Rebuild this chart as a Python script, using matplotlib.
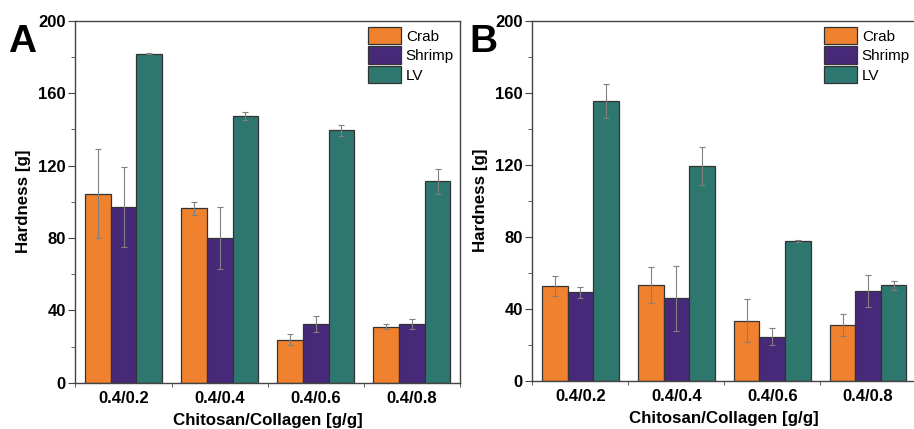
import matplotlib.pyplot as plt
import numpy as np
from matplotlib.ticker import MultipleLocator

plt.rcParams['font.family'] = ['Liberation Sans', 'DejaVu Sans']

ratios = ['0.4/0.2', '0.4/0.4', '0.4/0.6', '0.4/0.8']
series = ['Crab', 'Shrimp', 'LV']

# Panel A
crab_a = [104.5, 96.3, 23.8, 31.0]
crab_a_err = [24.7, 3.5, 3.0, 1.2]
shrimp_a = [97.2, 80.1, 32.4, 32.4]
shrimp_a_err = [22.0, 17.0, 4.4, 3.0]
lv_a = [181.8, 147.5, 139.4, 111.2]
lv_a_err = [0.3, 2.2, 3.0, 7.0]

# Panel B
crab_b = [52.5, 52.9, 33.4, 30.8]
crab_b_err = [5.6, 10.0, 12.0, 6.0]
shrimp_b = [49.0, 45.8, 24.5, 49.7]
shrimp_b_err = [3.0, 18.0, 4.6, 9.0]
lv_b = [155.3, 119.3, 77.6, 52.9]
lv_b_err = [9.5, 10.4, 0.3, 2.4]

colors = ['#F0812E', '#47297A', '#2E776E']

fig = plt.figure(figsize=(9.14, 4.29), dpi=100)
ax_a = fig.add_axes([0.0826, 0.1079, 0.4207, 0.8438])
ax_b = fig.add_axes([0.5826, 0.1126, 0.4196, 0.8392])

panels = [
    (ax_a, 'A', [crab_a, shrimp_a, lv_a], [crab_a_err, shrimp_a_err, lv_a_err]),
    (ax_b, 'B', [crab_b, shrimp_b, lv_b], [crab_b_err, shrimp_b_err, lv_b_err]),
]

x = np.arange(1, len(ratios) + 1)
w = 0.8 / 3

for ax, letter, vals, errs in panels:
    for i, name in enumerate(series):
        ax.bar(x + (i - 1) * w, vals[i], width=w, color=colors[i],
               edgecolor='#333333', linewidth=0.9, label=name,
               yerr=errs[i], ecolor='#808080',
               error_kw=dict(elinewidth=0.8, capsize=2.5, capthick=0.8))

    ax.set_xlim(0.5, 4.5)
    ax.set_ylim(0, 200)
    ax.yaxis.set_major_locator(MultipleLocator(40))
    ax.yaxis.set_minor_locator(MultipleLocator(20))
    ax.set_xticks(x)
    ax.set_xticklabels(ratios, fontsize=12, fontweight='bold')
    ax.set_xticks(np.arange(0.5, 5, 1), minor=True)
    ax.tick_params(axis='x', which='major', length=0, pad=6)
    ax.tick_params(axis='x', which='minor', direction='out', length=3, color='#444444')
    ax.tick_params(axis='y', which='major', direction='out', length=5, color='#444444', pad=2)
    ax.tick_params(axis='y', which='minor', direction='out', length=3, color='#444444')
    for lab in ax.get_yticklabels():
        lab.set_fontweight('bold')
        lab.set_fontsize(12)

    for s in ax.spines.values():
        s.set_color('#444444')
        s.set_linewidth(1.0)

    ax.set_xlabel('Chitosan/Collagen [g/g]', fontsize=12.2, fontweight='bold', labelpad=5)
    ax.set_ylabel('Hardness [g]', fontsize=12.2, fontweight='bold', labelpad=5)

    ax.legend(loc='upper right', frameon=False, fontsize=11,
              handlelength=2.15, handleheight=1.4, labelspacing=0.12,
              handletextpad=0.3, borderaxespad=0.2, borderpad=0.2)

fig.text(0.009, 0.945, 'A', fontsize=28, fontweight='bold', va='top', ha='left')
fig.text(0.513, 0.945, 'B', fontsize=28, fontweight='bold', va='top', ha='left')

fig.savefig('out.png', dpi=100)
